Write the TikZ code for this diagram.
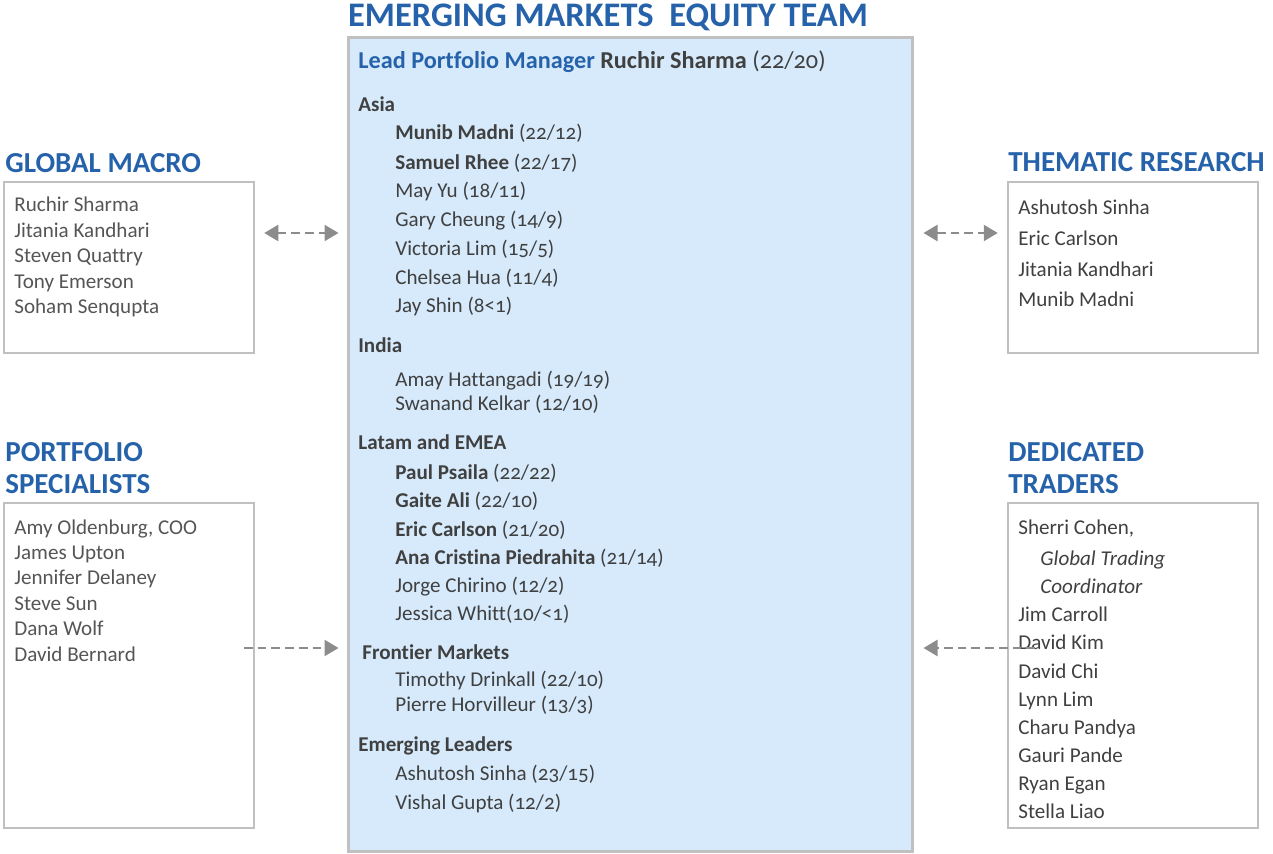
\documentclass[tikz,border=0pt]{standalone}
\usepackage{fontspec}
\setmainfont{Carlito}[Numbers=OldStyle, Ligatures=CommonOff]
\usepackage{tikz}
\usetikzlibrary{arrows.meta,positioning}

\definecolor{headblue}{HTML}{2662AA}
\definecolor{namegray}{HTML}{404040}
\definecolor{sidegray}{HTML}{555555}
\definecolor{teamfill}{HTML}{D6EAFC}
\definecolor{boxgray}{HTML}{C0C0C0}
\definecolor{linkgray}{HTML}{8C8C8C}

\tikzset{
  teambox/.style={draw=boxgray, line width=1.7pt, fill=teamfill, minimum width=11.3cm, minimum height=16.3cm, inner sep=0pt},
  sidebox/.style={draw=boxgray, line width=1.4pt, minimum width=5cm, inner sep=0pt},
  heading/.style={anchor=base west, inner sep=0pt, text=headblue, font=\bfseries\fontsize{16.5}{19}\selectfont},
  member/.style={anchor=base west, inner sep=0pt, text=namegray, font=\fontsize{12}{14}\selectfont},
  region/.style={member, font=\bfseries\fontsize{12}{14}\selectfont},
  sidename/.style={member, text=sidegray},
  link/.style={draw=linkgray, line width=1.6pt, dash pattern=on 5pt off 2.8pt},
  >={Triangle[length=8pt,width=9pt]}
}

\begin{document}
\begin{tikzpicture}[x=0.02cm, y=-0.02cm]
	\useasboundingbox (0,0) rectangle (1273,854);

	% boxes
	\node[teambox] (emteam) at (630.5,444.5) {};
	\node[sidebox, minimum height=3.42cm] (macro) at (129,267.5) {};
	\node[sidebox, minimum height=3.42cm] (thematic) at (1133,267.5) {};
	\node[sidebox, minimum height=6.5cm] (specialists) at (129,665.5) {};
	\node[sidebox, minimum height=6.5cm] (traders) at (1133,665.5) {};

	% headings
	\node[anchor=base, inner sep=0pt, text=headblue, font=\bfseries\fontsize{19.6}{23}\selectfont] (title) at (608,27) {EMERGING MARKETS\ \ EQUITY TEAM};
	\node[heading] (macro-head) at (5,173) {GLOBAL MACRO};
	\node[heading] (thematic-head) at (1008,172) {THEMATIC RESEARCH};
	\node[heading] (spec-head1) at (5,461) {PORTFOLIO};
	\node[heading] (spec-head2) at (5,493) {SPECIALISTS};
	\node[heading] (trad-head1) at (1008,461) {DEDICATED};
	\node[heading] (trad-head2) at (1008,493) {TRADERS};

	% equity team
	\node[region, font=\bfseries\fontsize{13.8}{16}\selectfont] (lead) at (358,69) {\textcolor{headblue}{Lead Portfolio Manager} Ruchir Sharma \mdseries(22/20)};
	\node[region] (asia) at (358,112) {Asia};
	\node[member] (madni) at (395,140) {\textbf{Munib Madni} (22/12)};
	\node[member] (rhee) at (395,170) {\textbf{Samuel Rhee} (22/17)};
	\node[member] (yu) at (395,198) {May Yu (18/11)};
	\node[member] (cheung) at (395,227) {Gary Cheung (14/9)};
	\node[member] (lim) at (395,256) {Victoria Lim (15/5)};
	\node[member] (hua) at (395,285) {Chelsea Hua (11/4)};
	\node[member] (shin) at (395,313) {Jay Shin (8<1)};
	\node[region] (india) at (358,353) {India};
	\node[member] (hattangadi) at (395,386) {Amay Hattangadi (19/19)};
	\node[member] (kelkar) at (395,410) {Swanand Kelkar (12/10)};
	\node[region] (latam) at (358,449) {Latam and EMEA};
	\node[member] (psaila) at (395,479) {\textbf{Paul Psaila} (22/22)};
	\node[member] (ali) at (395,507) {\textbf{Gaite Ali} (22/10)};
	\node[member] (carlson) at (395,536) {\textbf{Eric Carlson} (21/20)};
	\node[member] (piedrahita) at (395,564) {\textbf{Ana Cristina Piedrahita} (21/14)};
	\node[member] (chirino) at (395,592) {Jorge Chirino (12/2)};
	\node[member] (whitt) at (395,620) {Jessica Whitt(10/<1)};
	\node[region] (frontier) at (362,659) {Frontier Markets};
	\node[member] (drinkall) at (395,686) {Timothy Drinkall (22/10)};
	\node[member] (horvilleur) at (395,711) {Pierre Horvilleur (13/3)};
	\node[region] (leaders) at (358,751) {Emerging Leaders};
	\node[member] (sinha) at (395,780) {Ashutosh Sinha (23/15)};
	\node[member] (gupta) at (395,809) {Vishal Gupta (12/2)};

	% global macro
	\node[sidename] (gm1) at (14,212) {Ruchir Sharma};
	\node[sidename] (gm2) at (14,238) {Jitania Kandhari};
	\node[sidename] (gm3) at (14,263) {Steven Quattry};
	\node[sidename] (gm4) at (14,289) {Tony Emerson};
	\node[sidename] (gm5) at (14,314) {Soham Senqupta};

	% thematic research
	\node[member] (tr1) at (1018,215) {Ashutosh Sinha};
	\node[member] (tr2) at (1018,246) {Eric Carlson};
	\node[member] (tr3) at (1018,277) {Jitania Kandhari};
	\node[member] (tr4) at (1018,307) {Munib Madni};

	% portfolio specialists
	\node[sidename] (ps1) at (14,534) {Amy Oldenburg, COO};
	\node[sidename] (ps2) at (14,559) {James Upton};
	\node[sidename] (ps3) at (14,584) {Jennifer Delaney};
	\node[sidename] (ps4) at (14,610) {Steve Sun};
	\node[sidename] (ps5) at (14,635) {Dana Wolf};
	\node[sidename] (ps6) at (14,661) {David Bernard};

	% dedicated traders
	\node[member] (dt1) at (1018,534) {Sherri Cohen,};
	\node[member, font=\itshape\fontsize{12}{14}\selectfont] (dt1a) at (1040,565) {Global Trading};
	\node[member, font=\itshape\fontsize{12}{14}\selectfont] (dt1b) at (1040,593) {Coordinator};
	\node[member] (dt2) at (1018,621) {Jim Carroll};
	\node[member] (dt3) at (1018,649) {David Kim};
	\node[member] (dt4) at (1018,678) {David Chi};
	\node[member] (dt5) at (1018,706) {Lynn Lim};
	\node[member] (dt6) at (1018,734) {Charu Pandya};
	\node[member] (dt7) at (1018,762) {Gauri Pande};
	\node[member] (dt8) at (1018,790) {Ryan Egan};
	\node[member] (dt9) at (1018,818) {Stella Liao};

	% links
	\coordinate (row1) at (0,233);
	\coordinate (row2) at (0,648);
	\coordinate (spec-out) at (244,648);
	\coordinate (trad-out) at (1035,648);
	\draw[link, <->, shorten <=0.18cm, shorten >=0.16cm] (macro.east |- row1) to (emteam.west |- row1);
	\draw[link, <->, shorten <=0.18cm, shorten >=0.18cm] (emteam.east |- row1) to (thematic.west |- row1);
	\draw[link, ->, shorten >=0.16cm] (spec-out) to (emteam.west |- row2);
	\draw[link, ->, shorten >=0.18cm] (trad-out) to (emteam.east |- row2);
\end{tikzpicture}
\end{document}
